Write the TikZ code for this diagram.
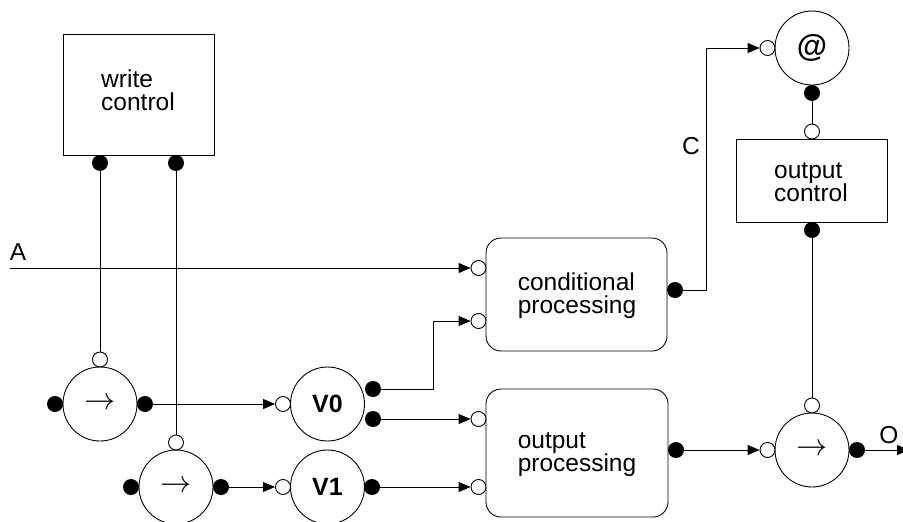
\documentclass[tikz,border=0pt]{standalone}
\usepackage{fontspec}
\setmainfont{Liberation Sans}
\usetikzlibrary{arrows.meta}
\begin{document}
\begin{tikzpicture}[x=1pt,y=-1pt,
  every node/.style={font=\fontsize{24.5}{23}\selectfont},
  ctlbox/.style={draw, line width=0.9pt, rectangle, inner sep=0, align=left},
  procbox/.style={draw, line width=0.9pt, rectangle, rounded corners=15pt, inner sep=0, align=left},
  unit/.style={draw, line width=0.9pt, circle, inner sep=0, minimum size=74pt},
  wport/.style={draw, line width=0.9pt, circle, fill=white, inner sep=0, minimum size=15pt},
  bport/.style={circle, fill=black, inner sep=0, minimum size=16pt},
  wire/.style={line width=0.9pt},
  conn/.style={line width=0.9pt, -{Triangle[length=12pt,width=10pt]}},
  lbl/.style={anchor=base, inner sep=0},
  pointer/.style={inner sep=0, font=\fontsize{24}{24}\selectfont}
]
\useasboundingbox (0,0) rectangle (903,522);

% write control
\node[ctlbox, minimum width=151pt, minimum height=121pt] (wc) at (138.5,94.5) {};
\node[inner sep=0, align=left] (wct) at (138,90) {write\\control};
\node[bport] (wcd1) at (100,163) {};
\node[bport] (wcd2) at (176,163) {};

% write units
\node[unit] (c1) at (100,404) {};
\node[pointer] (c1a) at (100,404) {\scalebox{1.25}{$\rightarrow$}};
\node[wport] (c1t) at (100,359.5) {};
\node[bport] (c1l) at (55,404) {};
\node[bport] (c1r) at (145,404) {};

\node[unit] (c2) at (176,487) {};
\node[pointer] (c2a) at (176,487) {\scalebox{1.25}{$\rightarrow$}};
\node[wport] (c2t) at (176,442.5) {};
\node[bport] (c2l) at (131,487) {};
\node[bport] (c2r) at (221,487) {};

% registers
\node[unit, font=\fontsize{25}{25}\selectfont\bfseries] (v0) at (327.5,404) {V0};
\node[wport] (v0in) at (283,404) {};
\node[bport] (v0a) at (373,389) {};
\node[bport] (v0b) at (373,419) {};

\node[unit, font=\fontsize{25}{25}\selectfont\bfseries] (v1) at (327.5,487) {V1};
\node[wport] (v1in) at (283,487) {};
\node[bport] (v1out) at (372,487) {};

% conditional processing
\node[procbox, minimum width=181pt, minimum height=113pt] (cp) at (576.5,294.5) {};
\node[inner sep=0, align=left] (cpt) at (577,296) {conditional\\processing};
\node[wport] (cpa) at (478.5,268) {};
\node[wport] (cpb) at (478.5,321) {};
\node[bport] (cpo) at (675,290) {};

% output processing
\node[procbox, minimum width=182pt, minimum height=128pt] (op) at (577,453) {};
\node[inner sep=0, align=left] (opt) at (577,455) {output\\processing};
\node[wport] (opa) at (478.5,419) {};
\node[wport] (opb) at (478.5,487) {};
\node[bport] (opo) at (676,450) {};

% @ unit
\node[unit, font=\fontsize{31}{31}\selectfont\bfseries] (at) at (812,48) {@};
\node[wport] (atin) at (767.5,48) {};
\node[bport] (atb) at (812,93) {};

% output control
\node[ctlbox, minimum width=151pt, minimum height=83pt] (oc) at (811.5,180.5) {};
\node[inner sep=0, align=left] (oct) at (811,182) {output\\control};
\node[wport] (octp) at (812,131.5) {};
\node[bport] (ocb) at (812,230) {};

% output unit
\node[unit] (ou) at (812,450) {};
\node[pointer] (oua) at (812,450) {\scalebox{1.25}{$\rightarrow$}};
\node[wport] (out) at (812,405.5) {};
\node[wport] (ouin) at (767.5,450) {};
\node[bport] (ouo) at (857,450) {};

% free ends and bends
\coordinate (Astart) at (10,268);
\coordinate (j1) at (433,389);
\coordinate (j2) at (706,290);
\coordinate (Oend) at (909,450);

% labels
\node[lbl] (la) at (18,260) {A};
\node[lbl] (lc) at (691,154) {C};
\node[lbl] (lo) at (889,443) {O};

% connectors
\draw[wire] (wcd1) -- (c1t);
\draw[wire] (wcd2) -- (c2t);
\draw[conn] (Astart) -- (cpa);
\draw[conn] (c1r) -- (v0in);
\draw[conn] (c2r) -- (v1in);
\draw[conn] (v0a) -- (j1) |- (cpb);
\draw[conn] (v0b) -- (opa);
\draw[conn] (v1out) -- (opb);
\draw[conn] (cpo) -- (j2) |- (atin);
\draw[wire] (atb) -- (octp);
\draw[wire] (ocb) -- (out);
\draw[conn] (opo) -- (ouin);
\draw[conn] (ouo) -- (Oend);
\end{tikzpicture}
\end{document}
